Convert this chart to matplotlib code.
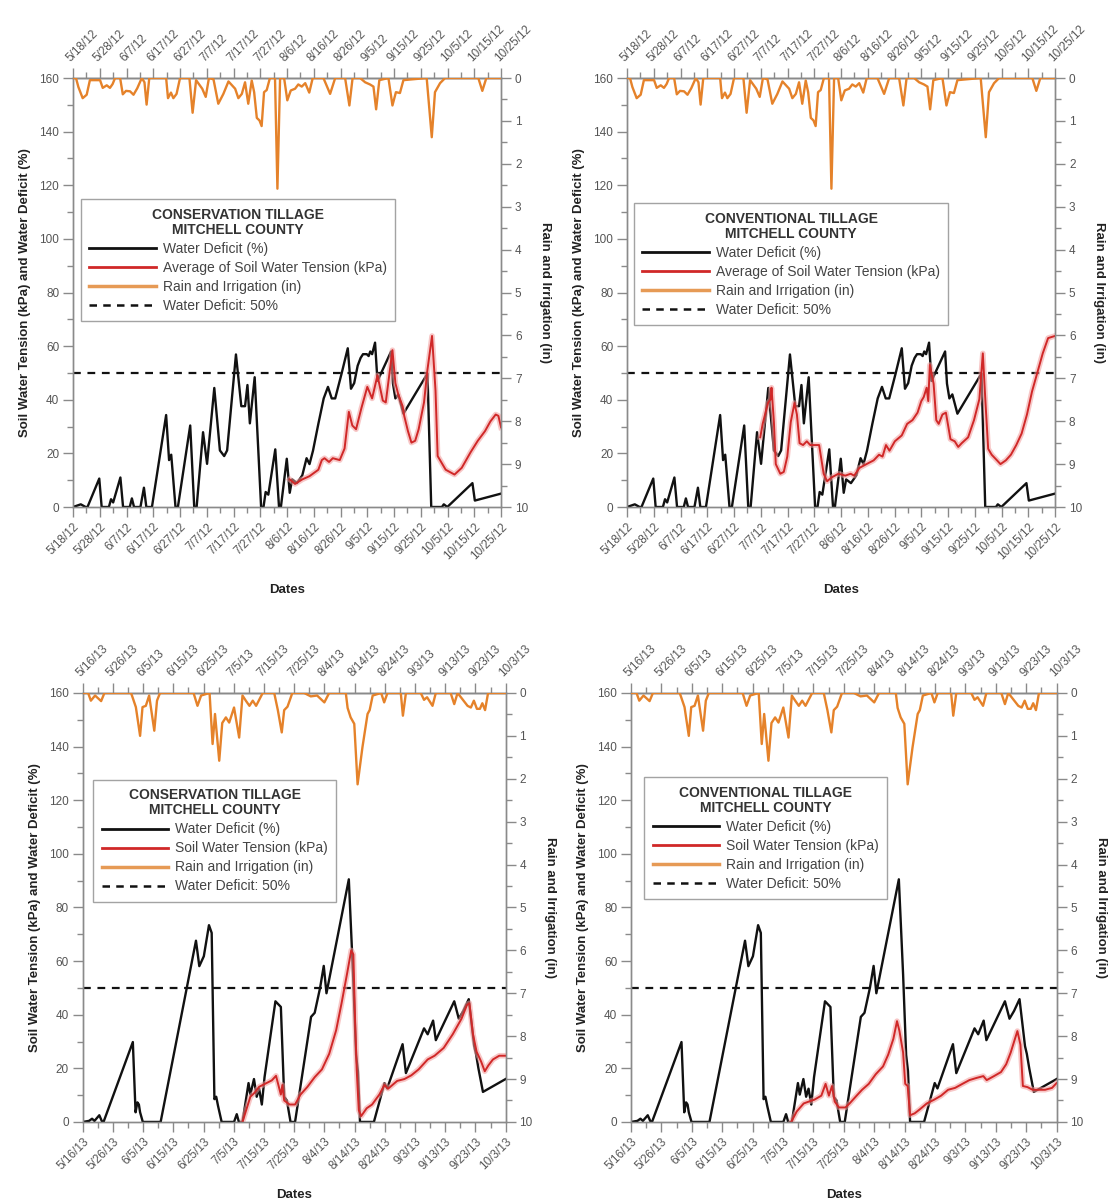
import matplotlib
matplotlib.use("Agg")
import matplotlib.pyplot as plt
from matplotlib.lines import Line2D

plt.rcParams['font.family'] = ['Liberation Sans', 'DejaVu Sans']

# ---------------------------------------------------------------------------
# 2012 season, x values are days after 5/18/12
# ---------------------------------------------------------------------------
dates_2012 = ['5/18/12', '5/28/12', '6/7/12', '6/17/12', '6/27/12', '7/7/12',
              '7/17/12', '7/27/12', '8/6/12', '8/16/12', '8/26/12', '9/5/12',
              '9/15/12', '9/25/12', '10/5/12', '10/15/12', '10/25/12']

# water deficit (%) - same for both tillage systems
wd12_day = [0, 2.9, 4.7, 5.4, 9.8, 10.7, 13.4, 14.2, 15, 17.7, 18.7, 21.2, 22, 22.8,
            25.2, 26.5, 27.4, 29.5, 34.8, 35.9, 36.7, 37.2, 38.3, 39.2, 43.8, 45.3,
            46.2, 48.6, 50.1, 52.8, 54.9, 56.5, 57.6, 60.9, 62.9, 64.3, 65.2, 66.1,
            67.9, 70.3, 71.2, 72, 73, 75.6, 77, 77.7, 79.9, 81, 81.9, 83.7, 85.7,
            87.3, 88.4, 89.7, 91.7, 93.7, 95.3, 96.7, 98, 100.4, 102.7, 103.9, 105.1,
            106.4, 107.5, 108.4, 109.8, 110.5, 111.1, 111.8, 112.9, 113.8, 118.9,
            119.6, 120.5, 121.6, 123.5, 132.5, 133.9, 137.9, 138.6, 139.9, 149.3,
            150.2, 160]
wd12_val = [0, 1, 0, 0, 10.6, 0, 0, 2.9, 1.7, 11, 0, 0, 3.2, 0,
            0, 7.2, 0, 0, 34.3, 17.5, 19.5, 13.5, 0, 0, 30.4, 0,
            0, 27.9, 16.1, 44.4, 21.1, 19, 21.1, 56.9, 37.6, 37.6, 45.5, 31.2,
            48.4, 0, 0, 5.6, 4.6, 21.5, 0, 0, 18, 5.3, 10.3, 8.9, 11.8,
            18.2, 16, 21, 31, 40.5, 44.8, 40.5, 40.5, 49.8, 59.2, 44.1, 46.2,
            52.7, 55.6, 57, 57, 56.3, 58, 57, 61.3, 47, 58,
            46, 40.5, 42, 34.8, 49.8, 0, 0, 1, 0, 8.9,
            2.4, 5]

# average soil water tension (kPa), conservation tillage
swt12_cons_day = [81, 83, 85.7, 88.4, 91.7, 93, 94, 95.7, 97.1, 99.7, 101.5, 103.1,
                  104.4, 105.8, 107.8, 110, 111.8, 113.8, 115.8, 116.9, 119.4, 120.5,
                  121.6, 123.2, 123.8, 125.2, 126.5, 127.9, 129.2, 131.2, 132.5, 134.2,
                  135.5, 136.3, 139.3, 142.6, 145.3, 148.6, 151.3, 154, 156, 158, 159, 160]
swt12_cons_val = [10.3, 8.6, 10.3, 11.5, 13.9, 17.5, 18.2, 16.8, 18.2, 17.5, 21.8, 35.5,
                  30.4, 29, 36.9, 44.8, 40.5, 49.1, 39.7, 39, 58.5, 46.2,
                  41.9, 37.6, 34, 28.3, 24, 24.7, 29, 39, 51.3, 63.8,
                  43.4, 19, 13.9, 12.1, 14.6, 20.4, 24.7, 28.3, 31.9, 34.5, 34, 29.7]

# average soil water tension (kPa), conventional tillage
swt12_conv_day = [49.8, 50.7, 52.7, 53.7, 54, 54.9, 55.6, 57.3, 58.6, 59.9, 61.2, 62.6,
                  63.5, 64.5, 65.8, 67.2, 68.5, 71.8, 73.5, 74.8, 76.4, 79, 81.6, 83.6,
                  84.9, 86.9, 89.5, 92.2, 94.2, 95.5, 96.8, 98.1, 100.1, 102.7, 104.7,
                  106.7, 108.6, 110, 110.9, 112, 112.6, 113.2, 114.6, 115.6, 116.5, 117.9,
                  119.2, 119.8, 120.9, 122.5, 123.8, 125.1, 127.5, 129.7, 131.7, 133, 134,
                  135, 136.3, 138.3, 139.6, 141.6, 143.5, 145.5, 147.5, 149.5, 151.4, 153.4,
                  155.4, 157.4, 160]
swt12_conv_val = [26, 31, 38.8, 40.2, 44.5, 31.7, 16, 12.4, 13.1, 18.8, 31.7, 38.8,
                  34.5, 23.8, 23.1, 24.5, 23.1, 23.1, 12.4, 9.6, 11, 12.4, 11.7, 12.4,
                  11.7, 14.6, 16, 17.4, 19.5, 18.8, 23.1, 21, 24.5, 26.7, 31,
                  32.4, 35.2, 39.5, 41, 44.5, 39.5, 53, 46, 32.4, 31, 34.5,
                  35.2, 31.7, 25.3, 24.5, 22.4, 23.8, 26, 32.4, 40.2, 57.3, 38.8,
                  21.7, 19.5, 17.4, 16, 17.4, 19.5, 23.1, 27.4, 34.5, 43.1, 50.2,
                  57.3, 63, 63.8]

# rain and irrigation (in)
rain12_day = [0, 1.1, 2.0, 3.6, 5.1, 6.3, 10.1, 11.1, 12.6, 13.8, 14.8, 15.7, 17.6, 18.6,
              19.8, 21.3, 22.6, 24.0, 25.7, 26.7, 27.5, 28.5, 34.8, 35.5, 36.6, 37.5,
              38.7, 40, 43.5, 44.7, 46, 48.3, 49.6, 50.8, 52.5, 54.3, 56.2, 58.1, 60.6,
              61.8, 63.1, 64.3, 65.5, 66.8, 67.7, 68.7, 69.7, 70.5, 71.4, 72.4, 73.6,
              75.5, 76.4, 77.4, 78.9, 80.1, 81.4, 83, 84.2, 85.5, 86.8, 88.3, 89.6, 93.6,
              96.1, 98, 101.7, 103.3, 104.5, 107.3, 109.2, 111, 112.3, 113.3, 114.5,
              117.9, 119.4, 120.7, 122.2, 123.5, 132.2, 134.1, 135.3, 137.2, 139.1,
              151.5, 153, 154.5, 160]
rain12_val = [0, 0, 0.21, 0.47, 0.39, 0.05, 0.05, 0.23, 0.17, 0.23, 0.14, 0, 0, 0.38,
              0.3, 0.31, 0.39, 0.24, 0, 0.1, 0.62, 0, 0, 0.47, 0.34, 0.47,
              0.37, 0, 0, 0.81, 0.05, 0.25, 0.44, 0, 0.03, 0.6, 0.37, 0.08, 0.25,
              0.47, 0.37, 0.1, 0.6, 0.06, 0.33, 0.93, 0.99, 1.12, 0.33, 0.28, 0,
              0, 2.58, 0, 0, 0.52, 0.29, 0.25, 0.15, 0.2, 0.12, 0.34, 0, 0,
              0.37, 0, 0, 0.64, 0, 0, 0.1, 0.15, 0.2, 0.73, 0.05,
              0, 0.64, 0.33, 0.35, 0.05, 0, 1.38, 0.33, 0.12, 0,
              0, 0.3, 0, 0]

# ---------------------------------------------------------------------------
# 2013 season, x values are days after 5/16/13
# ---------------------------------------------------------------------------
dates_2013 = ['5/16/13', '5/26/13', '6/5/13', '6/15/13', '6/25/13', '7/5/13',
              '7/15/13', '7/25/13', '8/4/13', '8/14/13', '8/24/13', '9/3/13',
              '9/13/13', '9/23/13', '10/3/13']

wd13_day = [0, 2.1, 3.1, 3.9, 5.5, 6.3, 6.9, 16.6, 17.5, 18.1, 18.6, 19, 19.9, 25.8,
            37.5, 38.6, 40.1, 41.8, 42.7, 43.6, 44.2, 44.8, 46, 50.1, 51, 51.7, 52.9,
            54.9, 55.5, 56.7, 57.6, 58.4, 59.3, 60.2, 63.8, 65.6, 66.7, 67.6, 68.8,
            70.3, 75.6, 76.8, 78.6, 79.8, 80.7, 88.1, 89.5, 90.5, 91.1, 91.8, 96.4,
            99.9, 100.8, 105.9, 107, 113, 114.2, 116, 116.9, 123, 124.5, 126, 127.8,
            129.6, 130.2, 131, 132.5, 140]
wd13_val = [0, 0.4, 1.2, 0.4, 2.5, 0.4, 0, 29.8, 3.6, 7.3, 6.5, 3.6, 0, 0,
            67.6, 58.1, 61.8, 73.4, 70.5, 8.5, 9.4, 6, 0, 0, 2.9, 0, 0,
            14.5, 10.2, 16, 9.4, 12.4, 6.5, 16.7, 45, 42.9, 9.4, 8, 0,
            0, 39.2, 40.7, 50.1, 58.2, 48, 90.5, 55, 25, 19, 0, 0,
            14.5, 12.5, 29, 18.2, 34.9, 32.7, 37.8, 30.5, 45, 38.5, 41.4, 45.8,
            28.3, 25.4, 20, 11.2, 16]

swt13_cons_day = [52.9, 55.5, 56.9, 58.4, 62.6, 64, 65.6, 66.1, 66.7, 68.5, 70.3, 72.1,
                  74.4, 76.8, 79.2, 81.6, 83.9, 85.7, 87.5, 88.9, 89.6, 90.2, 90.7, 91.4,
                  92.2, 94, 95.8, 98.2, 99.9, 101.1, 104.1, 106.5, 108.8, 111.2, 114.2,
                  116.5, 119.5, 122.5, 125.4, 127.2, 128, 129.2, 130.4, 131.9, 133.1,
                  134.3, 135.8, 137.9, 140]
swt13_cons_val = [0, 9.4, 10.9, 13.1, 15.5, 17.2, 10.2, 13.8, 8, 6.5, 6.5, 10.2,
                  13.1, 16.7, 19.6, 25.4, 34.2, 44.3, 55.2, 64, 62.5, 37, 19.6, 4.4,
                  2.2, 5.1, 6.5, 10.2, 13.8, 12.4, 15.3, 16, 17.4, 19.6, 23.3,
                  24.7, 27.6, 32.7, 38.5, 43.6, 44.3, 32.7, 26.2, 22.5, 18.9,
                  21.1, 23.3, 24.7, 24.7]

swt13_conv_day = [52.7, 54.5, 56.8, 58.5, 60.3, 62.6, 64, 65.1, 66.1, 67, 68.4, 70.5,
                  71.9, 74.2, 76, 78.2, 80.5, 82.9, 84.6, 86.3, 87.5, 88.3, 89.5, 90.2,
                  91, 91.8, 93.3, 95, 97.3, 99.7, 102, 104.3, 106.6, 109, 111.3, 113.6,
                  115.9, 117, 119.4, 121.7, 123.4, 124.9, 126.3, 127.1, 128.1, 128.9,
                  130.4, 132.1, 133.8, 136.2, 138.5, 140]
swt13_conv_val = [0, 3.9, 6.9, 7.6, 8.3, 9.8, 14.2, 9.8, 13.4, 7.6, 5.4, 5.4,
                  6.9, 9.8, 12, 14.2, 17.8, 20.7, 25.1, 31, 37.6, 33.9, 25.9, 14.2,
                  13.4, 2.5, 3.2, 4.7, 6.9, 8.3, 9.8, 12, 12.7, 14.2, 15.6, 16.4,
                  17.1, 15.6, 17.1, 18.6, 21.5, 25.9, 31, 33.9, 28.8, 13.4,
                  13, 12, 12, 12, 12.7, 14.5]

rain13_day = [0, 1.8, 2.7, 4.1, 6.1, 7.2, 16, 16.5, 17.6, 19, 19.8, 20.9, 22, 23.7,
              24.6, 25.6, 36.7, 38, 39.2, 42, 43, 43.8, 45.2, 46.2, 47.4, 48.5, 50.1,
              51.8, 52.9, 54, 55.2, 56.3, 57.4, 59.6, 63.4, 64.6, 65.9, 66.7, 67.8,
              69.4, 73.3, 75.5, 77.6, 80, 81.6, 87.1, 87.7, 88.7, 89.9, 91, 92.6, 94.3,
              95, 96, 98.8, 99.8, 100.9, 105.3, 106, 107, 111.9, 113, 114, 115.8, 116.9,
              121.8, 123, 124.1, 127.4, 128.5, 129.5, 130.5, 131.5, 132.3, 133.2,
              134.2, 140]
rain13_val = [0, 0, 0.18, 0.06, 0.19, 0, 0, 0.1, 0.33, 1.0, 0.33, 0.3, 0.06, 0.88,
              0.18, 0, 0, 0.3, 0.06, 0, 1.19, 0.49, 1.58, 0.7, 0.57, 0.69, 0.34,
              1.04, 0.06, 0.18, 0.3, 0.18, 0.3, 0, 0, 0.4, 0.92, 0.4, 0.32,
              0, 0, 0.08, 0.06, 0.22, 0, 0, 0.35, 0.57, 0.72, 2.13, 1.27, 0.49,
              0.4, 0.06, 0, 0.22, 0, 0, 0.53, 0, 0, 0.16, 0.1, 0.3, 0,
              0, 0.26, 0, 0.3, 0.34, 0.18, 0.37, 0.37, 0.24, 0.4,
              0, 0]

BLACK = '#111111'
RED = '#d02828'
ORANGE = '#e5822a'
GREY = '#8a8a8a'
TICK_TEXT = '#555555'

fig = plt.figure(figsize=(11.1, 12.02), dpi=100)


def draw_panel(rect, tick_labels, wd_day, wd_val, swt_day, swt_val, rain_day, rain_val,
               title, swt_label, legend_xy, dates_pad):
    """Draws one of the four water deficit / tension / rain panels."""
    ax = fig.add_axes(rect)
    n_days = 10 * (len(tick_labels) - 1)

    # water deficit, soil water tension (with a soft halo) and the 50% line
    ax.plot(wd_day, wd_val, color=BLACK, lw=1.7, zorder=3)
    ax.plot(swt_day, swt_val, color='#f29a9a', lw=4.0, alpha=0.55, zorder=4)
    ax.plot(swt_day, swt_val, color=RED, lw=1.4, zorder=5)
    ax.axhline(50, color=BLACK, lw=1.6, ls=(0, (3.5, 3)), zorder=2)

    ax.set_xlim(0, n_days)
    ax.set_ylim(0, 160)
    ax.set_yticks(range(0, 161, 20))
    ax.set_yticks(range(0, 161, 10), minor=True)
    ax.set_xticks(range(0, n_days + 1, 10))
    ax.set_xticks(range(0, n_days + 1, 5), minor=True)
    ax.set_xticklabels(tick_labels, rotation=45, ha='right', va='top',
                       rotation_mode='anchor')

    # rain on the inverted right axis
    ax2 = ax.twinx()
    ax2.plot(rain_day, rain_val, color=ORANGE, lw=1.7, zorder=3)
    ax2.set_ylim(10, 0)
    ax2.set_yticks(range(0, 11))
    ax2.set_yticks([i + 0.5 for i in range(10)], minor=True)

    # dates repeated on the top
    top = ax.secondary_xaxis('top')
    top.set_xticks(range(0, n_days + 1, 10))
    top.set_xticks(range(0, n_days + 1, 5), minor=True)
    top.set_xticklabels(tick_labels, rotation=45, ha='left', va='bottom',
                        rotation_mode='anchor')

    for a in (ax, ax2, top):
        a.tick_params(which='major', direction='out', length=7, width=1, color=GREY,
                      labelsize=8.5, labelcolor=TICK_TEXT, pad=3)
        a.tick_params(which='minor', direction='out', length=4, width=1, color=GREY)
        for spine in a.spines.values():
            spine.set_color(GREY)
            spine.set_linewidth(1)

    ax.set_ylabel('Soil Water Tension (kPa) and Water Deficit (%)', fontsize=9.5,
                  fontweight='bold', color='#222222', labelpad=6)
    ax2.set_ylabel('Rain and Irrigation (in)', fontsize=9.5, fontweight='bold',
                   color='#222222', rotation=270, va='bottom', labelpad=8)
    ax.set_xlabel('Dates', fontsize=9.5, fontweight='bold', color='#222222',
                  labelpad=dates_pad)

    handles = [
        Line2D([], [], color=BLACK, lw=2),
        Line2D([], [], color=RED, lw=2),
        Line2D([], [], color='#e69a55', lw=2.5),
        Line2D([], [], color=BLACK, lw=1.8, ls=(0, (3, 2.5))),
    ]
    labels = ['Water Deficit (%)', swt_label, 'Rain and Irrigation (in)',
              'Water Deficit: 50%']
    leg = ax2.legend(handles, labels, title=title, loc='upper left',
                     bbox_to_anchor=legend_xy, fontsize=10, labelcolor='#444444',
                     title_fontproperties={'weight': 'bold', 'size': 10},
                     frameon=True, fancybox=False, edgecolor='#8c8c8c',
                     handlelength=4.8, handletextpad=0.5, labelspacing=0.36,
                     borderpad=0.6, borderaxespad=0)
    # the two title lines are centred on each other
    leg.get_title().set_color('#333333')
    leg.get_title().set_linespacing(1.1)
    leg.get_title().set_multialignment('center')
    leg.get_frame().set_linewidth(1)
    return ax


draw_panel([0.0658, 0.5782, 0.3856, 0.3569], dates_2012, wd12_day, wd12_val,
           swt12_cons_day, swt12_cons_val, rain12_day, rain12_val,
           'CONSERVATION TILLAGE\nMITCHELL COUNTY',
           'Average of Soil Water Tension (kPa)', (0.018, 0.717), 16)

draw_panel([0.5649, 0.5782, 0.3856, 0.3569], dates_2012, wd12_day, wd12_val,
           swt12_conv_day, swt12_conv_val, rain12_day, rain12_val,
           'CONVENTIONAL TILLAGE\nMITCHELL COUNTY',
           'Average of Soil Water Tension (kPa)', (0.016, 0.708), 16)

draw_panel([0.0745, 0.0666, 0.3810, 0.3569], dates_2013, wd13_day, wd13_val,
           swt13_cons_day, swt13_cons_val, rain13_day, rain13_val,
           'CONSERVATION TILLAGE\nMITCHELL COUNTY',
           'Soil Water Tension (kPa)', (0.025, 0.797), 12)

draw_panel([0.5685, 0.0666, 0.3834, 0.3569], dates_2013, wd13_day, wd13_val,
           swt13_conv_day, swt13_conv_val, rain13_day, rain13_val,
           'CONVENTIONAL TILLAGE\nMITCHELL COUNTY',
           'Soil Water Tension (kPa)', (0.031, 0.803), 12)

plt.savefig('out.png', dpi=100)
